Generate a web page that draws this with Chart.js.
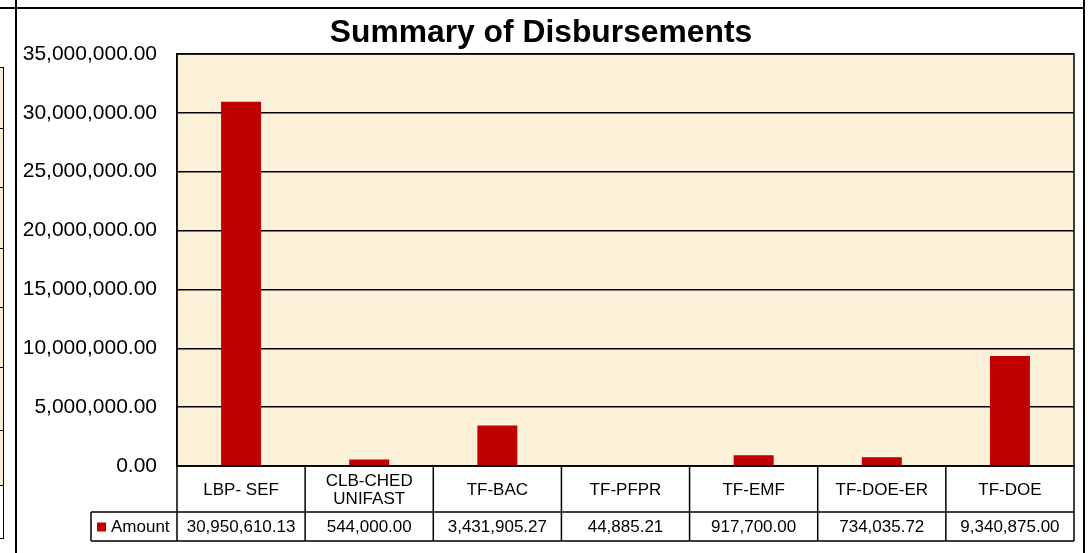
<!DOCTYPE html>
<html>
<head>
<meta charset="utf-8">
<title>Summary of Disbursements</title>
<script src="https://cdn.jsdelivr.net/npm/chart.js@4.4.1/dist/chart.umd.min.js"></script>
<style>
  body { margin: 0; background: #fff; }
  #wrap { position: relative; width: 1092px; height: 553px; overflow: hidden; }
  .ln { position: absolute; background: #000; }
  .cell { position: absolute; left: 0; width: 3px; border-top: 1px solid #000; border-right: 1px solid #000; }
  canvas { position: absolute; left: 0; top: 0; }
</style>
</head>
<body>
<div id="wrap">
  <!-- spreadsheet cells peeking out around the chart -->
  <div class="cell" style="top:67px;height:61px;background:#f8ecd2"></div>
  <div class="cell" style="top:128px;height:59px;background:#f8ecd2"></div>
  <div class="cell" style="top:187px;height:61px;background:#f8ecd2"></div>
  <div class="cell" style="top:248px;height:59px;background:#f8ecd2"></div>
  <div class="cell" style="top:307px;height:60px;background:#f8ecd2"></div>
  <div class="cell" style="top:367px;height:63px;background:#f8ecd2"></div>
  <div class="cell" style="top:430px;height:55px;background:#f8ecd2"></div>
  <div class="cell" style="top:485px;height:52px;background:#fff;border-bottom:1px solid #000"></div>
  <div class="ln" style="left:0;top:7px;width:1085px;height:2px"></div>
  <div class="ln" style="left:15px;top:0;width:2px;height:553px"></div>
  <div class="ln" style="left:1083px;top:0;width:2px;height:553px"></div>
  <canvas id="chart" width="1092" height="553"></canvas>
</div>
<script>
/* chart data */
const categories = [['LBP- SEF'], ['CLB-CHED', 'UNIFAST'], ['TF-BAC'], ['TF-PFPR'], ['TF-EMF'], ['TF-DOE-ER'], ['TF-DOE']];
const seriesName = 'Amount';
const amounts = [30950610.13, 544000.00, 3431905.27, 44885.21, 917700.00, 734035.72, 9340875.00];
const yTicks = [0, 5000000, 10000000, 15000000, 20000000, 25000000, 30000000, 35000000];

const barColor = '#c00000';
const fontFamily = '"Liberation Sans", Arial, Helvetica, sans-serif';

function money(v) {
    return Number(v).toLocaleString('en-US', { minimumFractionDigits: 2, maximumFractionDigits: 2 });
}

/* fills the plot area with the parchment colour */
const plotBackground = {
    id: 'plotBackground',
    beforeDraw(chart) {
        const { ctx, chartArea: a } = chart;
        ctx.save();
        ctx.fillStyle = '#fdf0d8';
        ctx.fillRect(a.left, a.top, a.right - a.left, a.bottom - a.top);
        ctx.restore();
    }
};

/* plot border and the data table under the axis */
const dataTable = {
    id: 'dataTable',
    afterDraw(chart) {
        const { ctx, chartArea: a } = chart;
        const x = chart.scales.x;
        const colW = (a.right - a.left) / categories.length;
        const row1 = a.bottom + 46;
        const row2 = row1 + 29;
        const legendLeft = 91;

        ctx.save();
        ctx.strokeStyle = '#000';
        ctx.lineWidth = 1.5;
        ctx.strokeRect(a.left, a.top, a.right - a.left, a.bottom - a.top);

        ctx.beginPath();
        ctx.moveTo(legendLeft, row1); ctx.lineTo(a.right, row1);
        ctx.moveTo(legendLeft, row2); ctx.lineTo(a.right, row2);
        ctx.moveTo(legendLeft, row1); ctx.lineTo(legendLeft, row2);
        for (let i = 0; i <= categories.length; i++) {
            const px = x.getPixelForValue(i) - colW / 2;
            ctx.moveTo(px, a.bottom); ctx.lineTo(px, row2);
        }
        ctx.stroke();

        ctx.font = '17px ' + fontFamily;
        ctx.fillStyle = '#000';
        ctx.textBaseline = 'middle';
        ctx.textAlign = 'center';
        const midY = (row1 + row2) / 2 + 1;
        amounts.forEach((v, i) => {
            ctx.fillText(money(v), x.getPixelForValue(i), midY);
        });

        ctx.fillStyle = barColor;
        ctx.fillRect(legendLeft + 6, midY - 5, 9, 9);
        ctx.fillStyle = '#000';
        ctx.textAlign = 'left';
        ctx.fillText(seriesName, legendLeft + 20, midY);
        ctx.restore();
    }
};

new Chart('chart', {
    type: 'bar',
    data: {
        labels: categories,
        datasets: [{
            label: seriesName,
            data: amounts,
            backgroundColor: barColor,
            borderWidth: 0,
            categoryPercentage: 1,
            barPercentage: 0.312
        }]
    },
    options: {
        responsive: false,
        animation: false,
        layout: { padding: { left: 8, right: 18, top: 0, bottom: 12 } },
        plugins: {
            legend: { display: false },
            tooltip: { enabled: false },
            title: {
                display: true,
                text: 'Summary of Disbursements',
                color: '#000',
                font: { family: fontFamily, size: 31.8, weight: 'bold' },
                padding: { top: 14, bottom: 1.8 }
            }
        },
        scales: {
            x: {
                grid: { display: false, drawTicks: false },
                border: { display: true, color: '#000', width: 1.5 },
                ticks: {
                    color: '#000',
                    font: { family: fontFamily, size: 17, lineHeight: 1.08 },
                    padding: 15,
                    crossAlign: 'center',
                    maxRotation: 0,
                    autoSkip: false
                },
                afterFit(scale) { scale.height = 75; }
            },
            y: {
                min: 0,
                max: 35000000,
                afterBuildTicks(scale) { scale.ticks = yTicks.map(v => ({ value: v })); },
                grid: { color: '#000', lineWidth: 1.5, drawTicks: false },
                border: { display: true, color: '#000', width: 1.5 },
                ticks: {
                    color: '#000',
                    font: { family: fontFamily, size: 21 },
                    padding: 20,
                    callback: v => money(v)
                },
                afterFit(scale) { scale.width = 169; }
            }
        }
    },
    plugins: [plotBackground, dataTable]
});
</script>
</body>
</html>
